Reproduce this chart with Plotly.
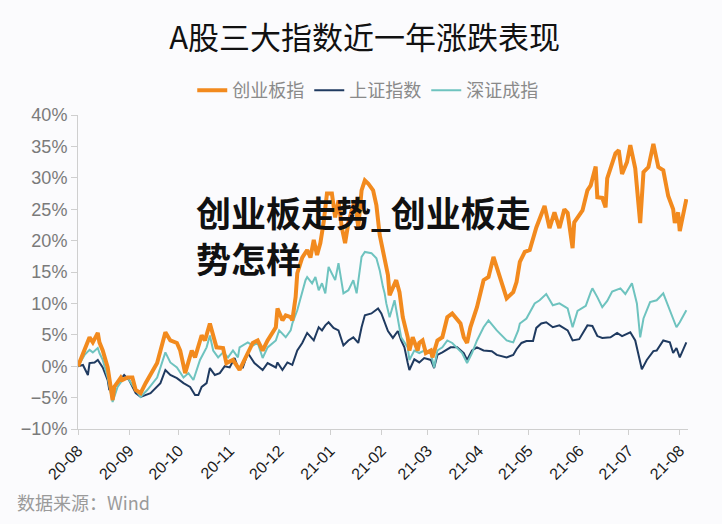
import plotly.graph_objects as go

# ---------------- data (cumulative % change since 2020-08) ----------------
cyb_dates = ["2020-08-01","2020-08-05","2020-08-08","2020-08-10","2020-08-13","2020-08-14","2020-08-16","2020-08-19","2020-08-22","2020-08-23",
             "2020-08-27","2020-08-28","2020-08-31","2020-09-03","2020-09-05","2020-09-08","2020-09-11","2020-09-18","2020-09-23","2020-09-26",
             "2020-09-30","2020-10-02","2020-10-05","2020-10-09","2020-10-11","2020-10-15","2020-10-17","2020-10-20","2020-10-22","2020-10-24",
             "2020-10-28","2020-10-30","2020-11-03","2020-11-07","2020-11-15","2020-11-18","2020-11-21","2020-11-24","2020-11-29","2020-11-30",
             "2020-12-03","2020-12-05","2020-12-08","2020-12-09","2020-12-11","2020-12-12","2020-12-15","2020-12-18","2020-12-20","2020-12-22",
             "2020-12-24","2020-12-26","2020-12-28","2020-12-30","2021-01-02","2021-01-04","2021-01-06","2021-01-08","2021-01-10","2021-01-12",
             "2021-01-14","2021-01-16","2021-01-18","2021-01-20","2021-01-22","2021-01-24","2021-01-27","2021-01-29","2021-01-31","2021-02-03",
             "2021-02-05","2021-02-06","2021-02-08","2021-02-10","2021-02-12","2021-02-14","2021-02-17","2021-02-18","2021-02-20","2021-02-23",
             "2021-02-24","2021-02-26","2021-02-28","2021-03-03","2021-03-04","2021-03-07","2021-03-10","2021-03-13","2021-03-16","2021-03-19",
             "2021-03-21","2021-03-23","2021-03-25","2021-03-27","2021-03-31","2021-04-04","2021-04-07","2021-04-10","2021-04-13","2021-04-16",
             "2021-04-18","2021-04-22","2021-04-24","2021-04-26","2021-04-29","2021-05-02","2021-05-06","2021-05-11","2021-05-14","2021-05-17",
             "2021-05-20","2021-05-23","2021-05-25","2021-05-28","2021-05-29","2021-06-03","2021-06-06","2021-06-08","2021-06-11","2021-06-12",
             "2021-06-15","2021-06-17","2021-06-18","2021-06-23","2021-06-25","2021-06-27","2021-06-30","2021-07-02","2021-07-05","2021-07-08",
             "2021-07-10","2021-07-13","2021-07-16","2021-07-19","2021-07-22","2021-07-25","2021-07-28","2021-07-29","2021-07-31","2021-08-01",
             "2021-08-05"]
cyb_vals = [0.0, 2.5, 4.6, 3.8, 5.3, 3.8, 2.5, -0.2, -5.4, -3.3,
            -1.8, -2.2, -1.8, -1.8, -3.8, -4.3, -2.7, 0.5, 5.4, 4.1,
            3.7, 2.5, -1.1, 2.5, 1.4, 4.9, 4.1, 6.8, 4.6, 3.0,
            2.9, 0.5, 1.0, -0.6, 3.7, 4.1, 2.5, 4.1, 6.2, 9.2,
            7.3, 8.1, 7.8, 7.3, 11.0, 14.8, 17.3, 18.5, 17.3, 20.1,
            17.7, 19.6, 22.9, 27.5, 27.5, 23.7, 26.4, 22.1, 19.6, 22.8,
            24.8, 26.4, 22.1, 28.0, 29.6, 29.1, 28.0, 25.6, 20.9, 16.9,
            14.5, 11.3, 12.4, 13.7, 11.8, 7.8, 4.6, 2.5, 4.6, 2.5,
            3.7, 4.1, 2.1, 2.5, 1.4, 4.1, 4.6, 7.8, 8.4, 7.3,
            6.8, 4.6, 3.7, 6.2, 9.4, 13.7, 14.2, 17.4, 14.8, 12.6,
            10.8, 11.8, 13.4, 16.6, 18.2, 18.5, 22.1, 25.5, 22.0, 24.5,
            22.0, 25.0, 24.4, 18.8, 22.9, 24.8, 28.0, 28.8, 31.8, 26.9,
            26.8, 25.3, 29.9, 33.9, 34.4, 30.6, 32.5, 35.2, 31.5, 22.8,
            30.9, 31.7, 35.4, 31.7, 31.2, 27.1, 25.0, 22.8, 24.5, 21.5,
            26.6]

sh_dates = ["2020-08-01","2020-08-04","2020-08-07","2020-08-08","2020-08-11","2020-08-13","2020-08-16","2020-08-19","2020-08-20","2020-08-25",
            "2020-08-29","2020-09-01","2020-09-05","2020-09-08","2020-09-14","2020-09-20","2020-09-23","2020-09-26","2020-09-30","2020-10-04",
            "2020-10-08","2020-10-11","2020-10-13","2020-10-15","2020-10-18","2020-10-20","2020-10-23","2020-10-26","2020-10-29","2020-11-01",
            "2020-11-04","2020-11-06","2020-11-09","2020-11-12","2020-11-16","2020-11-21","2020-11-24","2020-11-29","2020-11-30","2020-12-03",
            "2020-12-06","2020-12-09","2020-12-12","2020-12-15","2020-12-18","2020-12-22","2020-12-25","2020-12-27","2020-12-29","2020-12-31",
            "2021-01-03","2021-01-06","2021-01-09","2021-01-12","2021-01-15","2021-01-18","2021-01-20","2021-01-22","2021-01-26","2021-01-30",
            "2021-02-01","2021-02-03","2021-02-05","2021-02-08","2021-02-11","2021-02-13","2021-02-15","2021-02-17","2021-02-18","2021-02-21",
            "2021-02-24","2021-02-27","2021-03-03","2021-03-05","2021-03-07","2021-03-10","2021-03-15","2021-03-19","2021-03-23","2021-03-25",
            "2021-03-28","2021-03-31","2021-04-04","2021-04-09","2021-04-12","2021-04-18","2021-04-22","2021-04-24","2021-04-27","2021-04-30",
            "2021-05-04","2021-05-06","2021-05-09","2021-05-12","2021-05-16","2021-05-20","2021-05-25","2021-05-28","2021-06-01","2021-06-06",
            "2021-06-09","2021-06-12","2021-06-15","2021-06-20","2021-06-24","2021-06-27","2021-07-02","2021-07-05","2021-07-08","2021-07-09",
            "2021-07-12","2021-07-16","2021-07-18","2021-07-22","2021-07-26","2021-07-28","2021-07-30","2021-08-01","2021-08-05"]
sh_vals = [0.0, 0.2, -1.4, 0.5, 0.6, 1.0, -0.2, -2.2, -3.8, -2.7,
           -1.4, -2.2, -4.3, -4.9, -4.3, -2.7, -0.6, -1.4, -1.9, -2.7,
           -3.3, -4.6, -4.6, -3.3, -2.7, -0.3, -1.4, -1.1, 0.0, -0.2,
           1.3, -0.2, -0.2, 2.1, 0.5, -0.6, 0.5, -0.2, 0.6, -0.6,
           0.6, 0.2, 2.5, 3.7, 5.3, 4.1, 6.2, 5.7, 6.5, 7.0,
           6.1, 5.7, 3.3, 4.1, 4.6, 3.7, 6.2, 8.1, 8.4, 9.2,
           8.4, 7.0, 5.6, 4.5, 5.6, 4.1, 3.0, 0.5, -0.6, 1.1,
           0.6, 1.3, 1.0, -0.3, 1.8, 2.2, 3.0, 3.0, 2.1, 1.0,
           2.5, 3.0, 2.5, 2.4, 1.8, 1.4, 1.8, 2.7, 3.7, 4.0,
           4.0, 6.1, 6.8, 7.0, 6.2, 6.5, 5.7, 4.1, 4.3, 6.5,
           6.4, 4.8, 4.5, 4.6, 5.3, 4.8, 5.4, 4.1, 0.2, -0.5,
           1.0, 2.4, 2.5, 4.1, 3.8, 2.1, 2.9, 1.4, 3.8]

sz_dates = ["2020-08-01","2020-08-05","2020-08-08","2020-08-10","2020-08-13","2020-08-14","2020-08-16","2020-08-19","2020-08-22","2020-08-25",
            "2020-08-28","2020-08-31","2020-09-05","2020-09-08","2020-09-12","2020-09-18","2020-09-23","2020-09-26","2020-09-30","2020-10-04",
            "2020-10-07","2020-10-10","2020-10-14","2020-10-18","2020-10-20","2020-10-22","2020-10-25","2020-10-28","2020-10-31","2020-11-03",
            "2020-11-06","2020-11-07","2020-11-12","2020-11-15","2020-11-18","2020-11-21","2020-11-24","2020-11-29","2020-12-01","2020-12-05",
            "2020-12-08","2020-12-09","2020-12-12","2020-12-14","2020-12-17","2020-12-18","2020-12-21","2020-12-23","2020-12-25","2020-12-27",
            "2020-12-29","2020-12-31","2021-01-04","2021-01-06","2021-01-09","2021-01-12","2021-01-15","2021-01-17","2021-01-20","2021-01-22",
            "2021-01-26","2021-01-29","2021-01-31","2021-02-02","2021-02-03","2021-02-04","2021-02-06","2021-02-09","2021-02-11","2021-02-13",
            "2021-02-17","2021-02-18","2021-02-21","2021-02-24","2021-02-27","2021-03-03","2021-03-05","2021-03-07","2021-03-10","2021-03-13",
            "2021-03-16","2021-03-22","2021-03-25","2021-03-28","2021-03-31","2021-04-04","2021-04-07","2021-04-12","2021-04-18","2021-04-22",
            "2021-04-25","2021-04-26","2021-04-30","2021-05-05","2021-05-08","2021-05-12","2021-05-16","2021-05-20","2021-05-25","2021-05-28",
            "2021-05-31","2021-06-05","2021-06-08","2021-06-09","2021-06-12","2021-06-15","2021-06-18","2021-06-21","2021-06-26","2021-06-29",
            "2021-07-03","2021-07-06","2021-07-08","2021-07-10","2021-07-14","2021-07-18","2021-07-22","2021-07-25","2021-07-28","2021-07-30",
            "2021-08-01","2021-08-05"]
sz_vals = [0.0, 1.8, 2.6, 2.2, 2.9, 2.1, 1.0, -1.8, -5.7, -3.3,
           -2.2, -1.8, -3.8, -4.9, -3.8, -1.8, 2.2, 0.6, -0.2, -1.8,
           -1.1, -2.2, 1.0, 3.0, 4.9, 2.5, 1.4, 2.2, 1.4, 2.5,
           1.4, 3.0, 3.8, 3.3, 3.7, 1.3, 3.0, 4.1, 5.7, 4.6,
           5.7, 6.8, 8.9, 11.0, 13.7, 14.2, 13.2, 14.2, 12.1, 13.2,
           11.6, 15.8, 13.7, 16.4, 11.6, 12.1, 13.7, 11.6, 17.4, 18.2,
           18.0, 17.2, 15.3, 12.6, 11.6, 10.0, 7.8, 10.5, 7.8, 4.6,
           3.0, 1.0, 2.5, 2.1, 2.5, 2.1, -0.2, 2.5, 3.0, 4.1,
           3.7, 2.1, 0.5, 2.1, 4.1, 6.2, 7.3, 5.7, 4.1, 3.8,
           5.7, 6.8, 7.6, 10.0, 10.5, 11.5, 9.7, 10.0, 9.2, 6.2,
           8.8, 9.6, 11.8, 12.4, 11.0, 9.4, 10.4, 11.9, 12.4, 11.5,
           13.2, 10.0, 4.6, 7.6, 10.2, 10.5, 11.6, 9.6, 7.6, 6.2,
           7.0, 8.9]

series_names = ["创业板指", "上证指数", "深证成指"]
series_colors = ["#f28a1e", "#1f3a60", "#6ec3bf"]
series_widths = [4, 2, 2]

title_text = "A股三大指数近一年涨跌表现"
source_text = "数据来源：Wind"
overlay_text = "<b>创业板走势_创业板走<br>势怎样</b>"

CJK = "Noto Sans CJK SC"
LAT = "Liberation Sans, Arial, sans-serif"

fig = go.Figure()
all_x = [cyb_dates, sh_dates, sz_dates]
all_y = [cyb_vals, sh_vals, sz_vals]
# draw Shanghai and Shenzhen first, thick ChiNext line on top
for i in [1, 2, 0]:
    fig.add_trace(go.Scatter(x=all_x[i], y=all_y[i], name=series_names[i], mode="lines",
                             legendrank=i + 1,
                             line=dict(color=series_colors[i], width=series_widths[i])))

fig.update_layout(
    width=722, height=524,
    margin=dict(l=78, r=34, t=115, b=95),
    paper_bgcolor="#fbfbfd", plot_bgcolor="#fbfbfd",
    title=dict(text=title_text, x=0.505, xanchor="center", y=0.928, yanchor="middle",
               font=dict(family=CJK, size=31, color="#111111")),
    legend=dict(orientation="h", x=0.475, xanchor="center", y=1.078, yanchor="middle",
                font=dict(family=CJK, size=18, color="#8a8a8a"),
                itemwidth=30, bgcolor="rgba(0,0,0,0)"),
    showlegend=True,
    font=dict(family=CJK),
)

fig.update_xaxes(type="date", range=["2020-08-01", "2021-08-06"],
                 tick0="2020-08-01", dtick="M1", tickformat="%y-%m", tickangle=-45,
                 showgrid=False, zeroline=False, showline=True, linecolor="#cfcfcf", linewidth=1,
                 ticks="outside", ticklen=5, tickcolor="#cfcfcf",
                 tickfont=dict(family=LAT, size=16, color="#1a1a1a"))
fig.update_yaxes(range=[-10, 40], dtick=5, tick0=0, ticksuffix="%",
                 showgrid=False, zeroline=False, showline=True, linecolor="#cfcfcf", linewidth=1,
                 ticks="outside", ticklen=6, tickcolor="#cfcfcf",
                 tickfont=dict(family=LAT, size=18, color="#7a7a7a"))

fig.add_annotation(text=source_text, xref="paper", yref="paper", x=-0.103, y=-0.232,
                   xanchor="left", yanchor="middle", showarrow=False,
                   font=dict(family=CJK, size=18, color="#9a9a9a"))
fig.add_annotation(text=overlay_text, xref="paper", yref="paper", x=0.19, y=0.618,
                   xanchor="left", yanchor="middle", showarrow=False, align="left",
                   font=dict(family=CJK, size=35, color="#111111"))

fig.write_html("out.html")
